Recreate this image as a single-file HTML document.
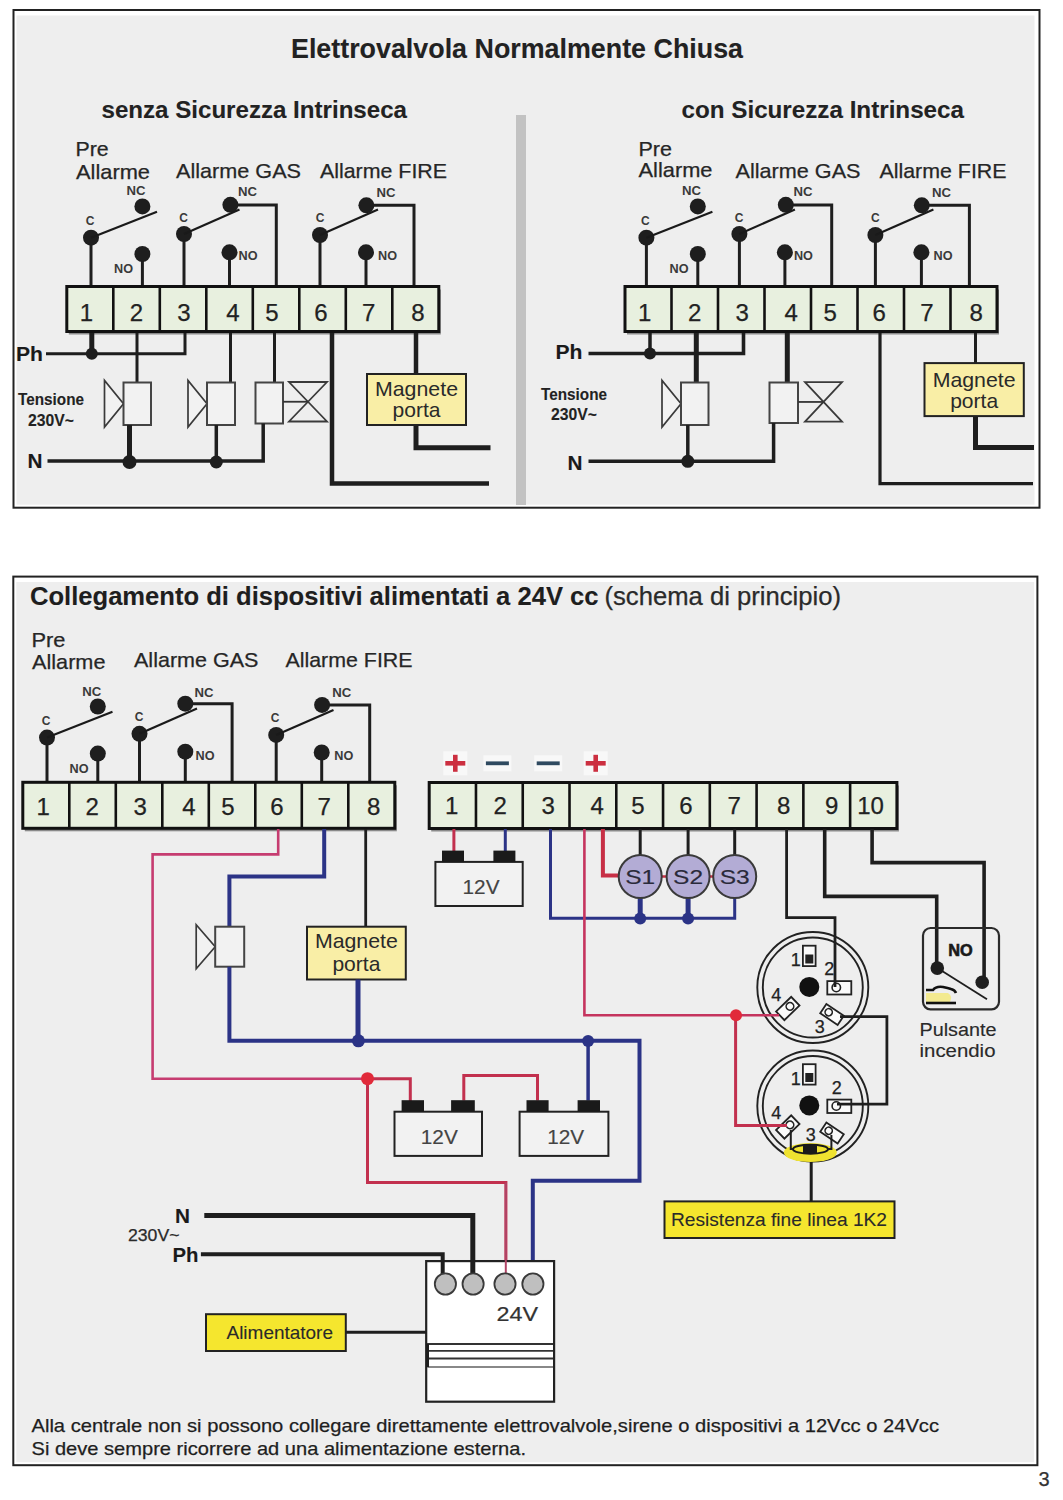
<!DOCTYPE html><html><head><meta charset="utf-8"><style>html,body{margin:0;padding:0;background:#fff;}svg{display:block;font-family:"Liberation Sans",sans-serif;}</style></head><body>
<svg width="1063" height="1500" viewBox="0 0 1063 1500">
<rect x="0" y="0" width="1063" height="1500" fill="#ffffff"/>
<rect x="13.5" y="10" width="1026" height="497.7" fill="#ffffff" stroke="#222" stroke-width="2" />
<rect x="16.5" y="15.5" width="1018" height="489.2" fill="#eeeeee"/>
<text x="291" y="57.8" font-size="27" font-weight="bold" fill="#222" stroke="#222" stroke-width="0.1" text-anchor="start" textLength="452" lengthAdjust="spacingAndGlyphs" >Elettrovalvola Normalmente Chiusa</text>
<text x="101.5" y="117.6" font-size="24" font-weight="bold" fill="#222" stroke="#222" stroke-width="0.1" text-anchor="start" textLength="305.5" lengthAdjust="spacingAndGlyphs" >senza Sicurezza Intrinseca</text>
<text x="681.5" y="117.6" font-size="24" font-weight="bold" fill="#222" stroke="#222" stroke-width="0.1" text-anchor="start" textLength="282.5" lengthAdjust="spacingAndGlyphs" >con Sicurezza Intrinseca</text>
<rect x="516" y="115" width="10" height="390" fill="#c2c2c2"/>
<text x="75.5" y="156.3" font-size="21" font-weight="normal" fill="#262626" stroke="#262626" stroke-width="0.25" text-anchor="start" textLength="33.2" lengthAdjust="spacingAndGlyphs" >Pre</text>
<text x="76" y="178.7" font-size="21" font-weight="normal" fill="#262626" stroke="#262626" stroke-width="0.25" text-anchor="start" textLength="74" lengthAdjust="spacingAndGlyphs" >Allarme</text>
<text x="176" y="178" font-size="21" font-weight="normal" fill="#262626" stroke="#262626" stroke-width="0.25" text-anchor="start" textLength="125" lengthAdjust="spacingAndGlyphs" >Allarme GAS</text>
<text x="320" y="177.5" font-size="21" font-weight="normal" fill="#262626" stroke="#262626" stroke-width="0.25" text-anchor="start" textLength="127" lengthAdjust="spacingAndGlyphs" >Allarme FIRE</text>
<line x1="91" y1="238" x2="91" y2="287" stroke="#1e1e1e" stroke-width="3" stroke-linecap="butt"/>
<line x1="142.4" y1="254" x2="142.4" y2="287" stroke="#1e1e1e" stroke-width="3" stroke-linecap="butt"/>
<line x1="184" y1="234" x2="184" y2="287" stroke="#1e1e1e" stroke-width="3" stroke-linecap="butt"/>
<line x1="229.5" y1="252" x2="229.5" y2="287" stroke="#1e1e1e" stroke-width="3" stroke-linecap="butt"/>
<polyline points="230.4,205 276.3,205 276.3,287" fill="none" stroke="#1e1e1e" stroke-width="3" stroke-linejoin="miter" stroke-linecap="butt"/>
<line x1="320" y1="235" x2="320" y2="287" stroke="#1e1e1e" stroke-width="3" stroke-linecap="butt"/>
<line x1="366" y1="252" x2="366" y2="287" stroke="#1e1e1e" stroke-width="3" stroke-linecap="butt"/>
<polyline points="366.4,205.3 414,205.3 414,287" fill="none" stroke="#1e1e1e" stroke-width="3" stroke-linejoin="miter" stroke-linecap="butt"/>
<circle cx="91" cy="237.7" r="8" fill="#1e1e1e"/>
<circle cx="142.4" cy="206.4" r="8" fill="#1e1e1e"/>
<circle cx="142.4" cy="254" r="8" fill="#1e1e1e"/>
<line x1="91" y1="237.7" x2="157" y2="211.8" stroke="#1a1a1a" stroke-width="2.2" stroke-linecap="butt"/>
<text x="90" y="225" font-size="12" font-weight="bold" fill="#3a3a3a" stroke="#3a3a3a" stroke-width="0" text-anchor="middle" >C</text>
<text x="136" y="195" font-size="12" font-weight="bold" fill="#3a3a3a" stroke="#3a3a3a" stroke-width="0" text-anchor="middle" textLength="19" lengthAdjust="spacingAndGlyphs" >NC</text>
<text x="123.6" y="273" font-size="12" font-weight="bold" fill="#3a3a3a" stroke="#3a3a3a" stroke-width="0" text-anchor="middle" textLength="19" lengthAdjust="spacingAndGlyphs" >NO</text>
<circle cx="184" cy="234" r="8" fill="#1e1e1e"/>
<circle cx="230.4" cy="204.8" r="8" fill="#1e1e1e"/>
<circle cx="229.5" cy="252.3" r="8" fill="#1e1e1e"/>
<line x1="184" y1="234" x2="239.5" y2="209.5" stroke="#1a1a1a" stroke-width="2.2" stroke-linecap="butt"/>
<text x="183.6" y="221.5" font-size="12" font-weight="bold" fill="#3a3a3a" stroke="#3a3a3a" stroke-width="0" text-anchor="middle" >C</text>
<text x="247.5" y="196" font-size="12" font-weight="bold" fill="#3a3a3a" stroke="#3a3a3a" stroke-width="0" text-anchor="middle" textLength="19" lengthAdjust="spacingAndGlyphs" >NC</text>
<text x="248" y="260" font-size="12" font-weight="bold" fill="#3a3a3a" stroke="#3a3a3a" stroke-width="0" text-anchor="middle" textLength="19" lengthAdjust="spacingAndGlyphs" >NO</text>
<circle cx="320" cy="235" r="8" fill="#1e1e1e"/>
<circle cx="366.4" cy="205.3" r="8" fill="#1e1e1e"/>
<circle cx="366" cy="252.3" r="8" fill="#1e1e1e"/>
<line x1="320" y1="235" x2="378" y2="209.5" stroke="#1a1a1a" stroke-width="2.2" stroke-linecap="butt"/>
<text x="320" y="221.5" font-size="12" font-weight="bold" fill="#3a3a3a" stroke="#3a3a3a" stroke-width="0" text-anchor="middle" >C</text>
<text x="386" y="196.5" font-size="12" font-weight="bold" fill="#3a3a3a" stroke="#3a3a3a" stroke-width="0" text-anchor="middle" textLength="19" lengthAdjust="spacingAndGlyphs" >NC</text>
<text x="387.6" y="260" font-size="12" font-weight="bold" fill="#3a3a3a" stroke="#3a3a3a" stroke-width="0" text-anchor="middle" textLength="19" lengthAdjust="spacingAndGlyphs" >NO</text>
<rect x="68.8" y="289.5" width="372.0" height="45" fill="#8a8a8a" stroke="none" stroke-width="0" />
<rect x="66.8" y="286.5" width="372.0" height="45" fill="#e8f0df" stroke="#111" stroke-width="3" />
<line x1="113.3" y1="286.5" x2="113.3" y2="331.5" stroke="#111" stroke-width="2.6" stroke-linecap="butt"/>
<line x1="159.8" y1="286.5" x2="159.8" y2="331.5" stroke="#111" stroke-width="2.6" stroke-linecap="butt"/>
<line x1="206.3" y1="286.5" x2="206.3" y2="331.5" stroke="#111" stroke-width="2.6" stroke-linecap="butt"/>
<line x1="252.8" y1="286.5" x2="252.8" y2="331.5" stroke="#111" stroke-width="2.6" stroke-linecap="butt"/>
<line x1="299.3" y1="286.5" x2="299.3" y2="331.5" stroke="#111" stroke-width="2.6" stroke-linecap="butt"/>
<line x1="345.8" y1="286.5" x2="345.8" y2="331.5" stroke="#111" stroke-width="2.6" stroke-linecap="butt"/>
<line x1="392.3" y1="286.5" x2="392.3" y2="331.5" stroke="#111" stroke-width="2.6" stroke-linecap="butt"/>
<text x="86.5" y="320.5" font-size="24" font-weight="normal" fill="#222" stroke="#222" stroke-width="0.25" text-anchor="middle" >1</text>
<text x="136.5" y="320.5" font-size="24" font-weight="normal" fill="#222" stroke="#222" stroke-width="0.25" text-anchor="middle" >2</text>
<text x="184" y="320.5" font-size="24" font-weight="normal" fill="#222" stroke="#222" stroke-width="0.25" text-anchor="middle" >3</text>
<text x="233" y="320.5" font-size="24" font-weight="normal" fill="#222" stroke="#222" stroke-width="0.25" text-anchor="middle" >4</text>
<text x="272" y="320.5" font-size="24" font-weight="normal" fill="#222" stroke="#222" stroke-width="0.25" text-anchor="middle" >5</text>
<text x="321" y="320.5" font-size="24" font-weight="normal" fill="#222" stroke="#222" stroke-width="0.25" text-anchor="middle" >6</text>
<text x="368.8" y="320.5" font-size="24" font-weight="normal" fill="#222" stroke="#222" stroke-width="0.25" text-anchor="middle" >7</text>
<text x="418" y="320.5" font-size="24" font-weight="normal" fill="#222" stroke="#222" stroke-width="0.25" text-anchor="middle" >8</text>
<text x="16" y="360.5" font-size="20" font-weight="bold" fill="#1a1a1a" stroke="#1a1a1a" stroke-width="0.1" text-anchor="start" textLength="27" lengthAdjust="spacingAndGlyphs" >Ph</text>
<text x="18" y="404.7" font-size="17" font-weight="bold" fill="#222" stroke="#222" stroke-width="0.1" text-anchor="start" textLength="66" lengthAdjust="spacingAndGlyphs" >Tensione</text>
<text x="28" y="425.5" font-size="17" font-weight="bold" fill="#222" stroke="#222" stroke-width="0.1" text-anchor="start" textLength="46" lengthAdjust="spacingAndGlyphs" >230V~</text>
<text x="27.5" y="467.6" font-size="21" font-weight="bold" fill="#1a1a1a" stroke="#1a1a1a" stroke-width="0.1" text-anchor="start" textLength="15" lengthAdjust="spacingAndGlyphs" >N</text>
<text x="638.5" y="155.7" font-size="21" font-weight="normal" fill="#262626" stroke="#262626" stroke-width="0.25" text-anchor="start" textLength="33.5" lengthAdjust="spacingAndGlyphs" >Pre</text>
<text x="638.5" y="176.8" font-size="21" font-weight="normal" fill="#262626" stroke="#262626" stroke-width="0.25" text-anchor="start" textLength="74.0" lengthAdjust="spacingAndGlyphs" >Allarme</text>
<text x="735.5" y="178" font-size="21" font-weight="normal" fill="#262626" stroke="#262626" stroke-width="0.25" text-anchor="start" textLength="125.0" lengthAdjust="spacingAndGlyphs" >Allarme GAS</text>
<text x="879.5" y="177.5" font-size="21" font-weight="normal" fill="#262626" stroke="#262626" stroke-width="0.25" text-anchor="start" textLength="127.0" lengthAdjust="spacingAndGlyphs" >Allarme FIRE</text>
<line x1="646.4000000000001" y1="238" x2="646.4000000000001" y2="287" stroke="#1e1e1e" stroke-width="3" stroke-linecap="butt"/>
<line x1="697.8000000000001" y1="254" x2="697.8000000000001" y2="287" stroke="#1e1e1e" stroke-width="3" stroke-linecap="butt"/>
<line x1="739.4000000000001" y1="234" x2="739.4000000000001" y2="287" stroke="#1e1e1e" stroke-width="3" stroke-linecap="butt"/>
<line x1="784.9000000000001" y1="252" x2="784.9000000000001" y2="287" stroke="#1e1e1e" stroke-width="3" stroke-linecap="butt"/>
<polyline points="785.8000000000001,205 831.7,205 831.7,287" fill="none" stroke="#1e1e1e" stroke-width="3" stroke-linejoin="miter" stroke-linecap="butt"/>
<line x1="875.4000000000001" y1="235" x2="875.4000000000001" y2="287" stroke="#1e1e1e" stroke-width="3" stroke-linecap="butt"/>
<line x1="921.4000000000001" y1="252" x2="921.4000000000001" y2="287" stroke="#1e1e1e" stroke-width="3" stroke-linecap="butt"/>
<polyline points="921.8000000000001,205.3 969.4000000000001,205.3 969.4000000000001,287" fill="none" stroke="#1e1e1e" stroke-width="3" stroke-linejoin="miter" stroke-linecap="butt"/>
<circle cx="646.4000000000001" cy="237.7" r="8" fill="#1e1e1e"/>
<circle cx="697.8000000000001" cy="206.4" r="8" fill="#1e1e1e"/>
<circle cx="697.8000000000001" cy="254" r="8" fill="#1e1e1e"/>
<line x1="646.4000000000001" y1="237.7" x2="712.4000000000001" y2="211.8" stroke="#1a1a1a" stroke-width="2.2" stroke-linecap="butt"/>
<text x="645.4000000000001" y="225" font-size="12" font-weight="bold" fill="#3a3a3a" stroke="#3a3a3a" stroke-width="0" text-anchor="middle" >C</text>
<text x="691.4000000000001" y="195" font-size="12" font-weight="bold" fill="#3a3a3a" stroke="#3a3a3a" stroke-width="0" text-anchor="middle" textLength="19" lengthAdjust="spacingAndGlyphs" >NC</text>
<text x="679.0000000000001" y="273" font-size="12" font-weight="bold" fill="#3a3a3a" stroke="#3a3a3a" stroke-width="0" text-anchor="middle" textLength="19" lengthAdjust="spacingAndGlyphs" >NO</text>
<circle cx="739.4000000000001" cy="234" r="8" fill="#1e1e1e"/>
<circle cx="785.8000000000001" cy="204.8" r="8" fill="#1e1e1e"/>
<circle cx="784.9000000000001" cy="252.3" r="8" fill="#1e1e1e"/>
<line x1="739.4000000000001" y1="234" x2="794.9000000000001" y2="209.5" stroke="#1a1a1a" stroke-width="2.2" stroke-linecap="butt"/>
<text x="739.0000000000001" y="221.5" font-size="12" font-weight="bold" fill="#3a3a3a" stroke="#3a3a3a" stroke-width="0" text-anchor="middle" >C</text>
<text x="802.9000000000001" y="196" font-size="12" font-weight="bold" fill="#3a3a3a" stroke="#3a3a3a" stroke-width="0" text-anchor="middle" textLength="19" lengthAdjust="spacingAndGlyphs" >NC</text>
<text x="803.4000000000001" y="260" font-size="12" font-weight="bold" fill="#3a3a3a" stroke="#3a3a3a" stroke-width="0" text-anchor="middle" textLength="19" lengthAdjust="spacingAndGlyphs" >NO</text>
<circle cx="875.4000000000001" cy="235" r="8" fill="#1e1e1e"/>
<circle cx="921.8000000000001" cy="205.3" r="8" fill="#1e1e1e"/>
<circle cx="921.4000000000001" cy="252.3" r="8" fill="#1e1e1e"/>
<line x1="875.4000000000001" y1="235" x2="933.4000000000001" y2="209.5" stroke="#1a1a1a" stroke-width="2.2" stroke-linecap="butt"/>
<text x="875.4000000000001" y="221.5" font-size="12" font-weight="bold" fill="#3a3a3a" stroke="#3a3a3a" stroke-width="0" text-anchor="middle" >C</text>
<text x="941.4000000000001" y="196.5" font-size="12" font-weight="bold" fill="#3a3a3a" stroke="#3a3a3a" stroke-width="0" text-anchor="middle" textLength="19" lengthAdjust="spacingAndGlyphs" >NC</text>
<text x="943.0000000000001" y="260" font-size="12" font-weight="bold" fill="#3a3a3a" stroke="#3a3a3a" stroke-width="0" text-anchor="middle" textLength="19" lengthAdjust="spacingAndGlyphs" >NO</text>
<rect x="627.0" y="289.5" width="372.0" height="45" fill="#8a8a8a" stroke="none" stroke-width="0" />
<rect x="625.0" y="286.5" width="372.0" height="45" fill="#e8f0df" stroke="#111" stroke-width="3" />
<line x1="671.5" y1="286.5" x2="671.5" y2="331.5" stroke="#111" stroke-width="2.6" stroke-linecap="butt"/>
<line x1="718.0" y1="286.5" x2="718.0" y2="331.5" stroke="#111" stroke-width="2.6" stroke-linecap="butt"/>
<line x1="764.5" y1="286.5" x2="764.5" y2="331.5" stroke="#111" stroke-width="2.6" stroke-linecap="butt"/>
<line x1="811.0" y1="286.5" x2="811.0" y2="331.5" stroke="#111" stroke-width="2.6" stroke-linecap="butt"/>
<line x1="857.5" y1="286.5" x2="857.5" y2="331.5" stroke="#111" stroke-width="2.6" stroke-linecap="butt"/>
<line x1="904.0" y1="286.5" x2="904.0" y2="331.5" stroke="#111" stroke-width="2.6" stroke-linecap="butt"/>
<line x1="950.5" y1="286.5" x2="950.5" y2="331.5" stroke="#111" stroke-width="2.6" stroke-linecap="butt"/>
<text x="644.7" y="320.5" font-size="24" font-weight="normal" fill="#222" stroke="#222" stroke-width="0.25" text-anchor="middle" >1</text>
<text x="694.7" y="320.5" font-size="24" font-weight="normal" fill="#222" stroke="#222" stroke-width="0.25" text-anchor="middle" >2</text>
<text x="742.2" y="320.5" font-size="24" font-weight="normal" fill="#222" stroke="#222" stroke-width="0.25" text-anchor="middle" >3</text>
<text x="791.2" y="320.5" font-size="24" font-weight="normal" fill="#222" stroke="#222" stroke-width="0.25" text-anchor="middle" >4</text>
<text x="830.2" y="320.5" font-size="24" font-weight="normal" fill="#222" stroke="#222" stroke-width="0.25" text-anchor="middle" >5</text>
<text x="879.2" y="320.5" font-size="24" font-weight="normal" fill="#222" stroke="#222" stroke-width="0.25" text-anchor="middle" >6</text>
<text x="927.0" y="320.5" font-size="24" font-weight="normal" fill="#222" stroke="#222" stroke-width="0.25" text-anchor="middle" >7</text>
<text x="976.2" y="320.5" font-size="24" font-weight="normal" fill="#222" stroke="#222" stroke-width="0.25" text-anchor="middle" >8</text>
<text x="555.5" y="358.7" font-size="20" font-weight="bold" fill="#1a1a1a" stroke="#1a1a1a" stroke-width="0.1" text-anchor="start" textLength="27" lengthAdjust="spacingAndGlyphs" >Ph</text>
<text x="541" y="399.5" font-size="17" font-weight="bold" fill="#222" stroke="#222" stroke-width="0.1" text-anchor="start" textLength="66" lengthAdjust="spacingAndGlyphs" >Tensione</text>
<text x="551" y="420.3" font-size="17" font-weight="bold" fill="#222" stroke="#222" stroke-width="0.1" text-anchor="start" textLength="46" lengthAdjust="spacingAndGlyphs" >230V~</text>
<text x="567.5" y="469.5" font-size="21" font-weight="bold" fill="#1a1a1a" stroke="#1a1a1a" stroke-width="0.1" text-anchor="start" textLength="15" lengthAdjust="spacingAndGlyphs" >N</text>
<polyline points="46,353.8 185,353.8 185,333" fill="none" stroke="#1e1e1e" stroke-width="3" stroke-linejoin="miter" stroke-linecap="butt"/>
<line x1="91.8" y1="333" x2="91.8" y2="353.8" stroke="#1e1e1e" stroke-width="5" stroke-linecap="butt"/>
<circle cx="91.8" cy="353.8" r="6" fill="#1e1e1e"/>
<line x1="137" y1="333" x2="137" y2="383" stroke="#1e1e1e" stroke-width="3" stroke-linecap="butt"/>
<line x1="230.5" y1="333" x2="230.5" y2="383" stroke="#1e1e1e" stroke-width="3" stroke-linecap="butt"/>
<line x1="274.5" y1="333" x2="274.5" y2="383" stroke="#1e1e1e" stroke-width="3" stroke-linecap="butt"/>
<polygon points="104.5,380.5 104.5,427.0 123.5,403.75" fill="#f2f2f2" stroke="#3a3a3a" stroke-width="1.7"/>
<rect x="123.5" y="382.5" width="27.5" height="42.5" fill="#f2f2f2" stroke="#444" stroke-width="2" />
<polygon points="188,380.5 188,427.0 207,403.75" fill="#f2f2f2" stroke="#3a3a3a" stroke-width="1.7"/>
<rect x="207" y="382.5" width="28" height="42.5" fill="#f2f2f2" stroke="#444" stroke-width="2" />
<rect x="255.5" y="382.5" width="27.5" height="41" fill="#f2f2f2" stroke="#444" stroke-width="2" />
<polygon points="289,382 327,382 289,421.5 327,421.5" fill="none" stroke="#3a3a3a" stroke-width="1.8" stroke-linejoin="miter"/>
<line x1="283" y1="401.75" x2="308.0" y2="401.75" stroke="#333" stroke-width="1.8" stroke-linecap="butt"/>
<polyline points="47.5,461 263.2,461 263.2,423.5" fill="none" stroke="#1e1e1e" stroke-width="3.5" stroke-linejoin="miter" stroke-linecap="butt"/>
<line x1="129.5" y1="425" x2="129.5" y2="461" stroke="#1e1e1e" stroke-width="5" stroke-linecap="butt"/>
<circle cx="129.5" cy="462" r="7" fill="#1e1e1e"/>
<line x1="216.3" y1="425" x2="216.3" y2="461" stroke="#1e1e1e" stroke-width="3.5" stroke-linecap="butt"/>
<circle cx="216.3" cy="462" r="6.5" fill="#1e1e1e"/>
<polyline points="332,333 332,483.5 489,483.5" fill="none" stroke="#1e1e1e" stroke-width="4.5" stroke-linejoin="miter" stroke-linecap="butt"/>
<line x1="416" y1="333" x2="416" y2="374" stroke="#1e1e1e" stroke-width="4.5" stroke-linecap="butt"/>
<polyline points="416,425 416,447.8 490.5,447.8" fill="none" stroke="#1e1e1e" stroke-width="5" stroke-linejoin="miter" stroke-linecap="butt"/>
<rect x="367" y="374" width="99" height="51" fill="#f9eea6" stroke="#222" stroke-width="2" />
<text x="416.5" y="395.5" font-size="21" font-weight="normal" fill="#2a2a2a" stroke="#2a2a2a" stroke-width="0" text-anchor="middle" textLength="83" lengthAdjust="spacingAndGlyphs" >Magnete</text>
<text x="416.5" y="417" font-size="21" font-weight="normal" fill="#2a2a2a" stroke="#2a2a2a" stroke-width="0" text-anchor="middle" textLength="48" lengthAdjust="spacingAndGlyphs" >porta</text>
<polyline points="588.5,353.5 743.5,353.5 743.5,333" fill="none" stroke="#1e1e1e" stroke-width="3.6" stroke-linejoin="miter" stroke-linecap="butt"/>
<line x1="650" y1="333" x2="650" y2="353.5" stroke="#1e1e1e" stroke-width="3.5" stroke-linecap="butt"/>
<circle cx="650" cy="353.5" r="6" fill="#1e1e1e"/>
<line x1="696.3" y1="333" x2="696.3" y2="383" stroke="#1e1e1e" stroke-width="5" stroke-linecap="butt"/>
<line x1="787.3" y1="333" x2="787.3" y2="383" stroke="#1e1e1e" stroke-width="5" stroke-linecap="butt"/>
<polygon points="662,380.5 662,427.0 681,403.75" fill="#f2f2f2" stroke="#3a3a3a" stroke-width="1.7"/>
<rect x="681" y="382.5" width="27.5" height="42.5" fill="#f2f2f2" stroke="#444" stroke-width="2" />
<rect x="769.5" y="382.5" width="28.5" height="40.5" fill="#f2f2f2" stroke="#444" stroke-width="2" />
<polygon points="805,382.2 842,382.2 805,421.7 842,421.7" fill="none" stroke="#3a3a3a" stroke-width="1.8" stroke-linejoin="miter"/>
<line x1="798.2" y1="401.95" x2="823.5" y2="401.95" stroke="#333" stroke-width="1.8" stroke-linecap="butt"/>
<polyline points="588.5,461.3 773.6,461.3 773.6,423" fill="none" stroke="#1e1e1e" stroke-width="3.5" stroke-linejoin="miter" stroke-linecap="butt"/>
<line x1="687.8" y1="425" x2="687.8" y2="461.3" stroke="#1e1e1e" stroke-width="3.5" stroke-linecap="butt"/>
<circle cx="687.8" cy="461.3" r="6.5" fill="#1e1e1e"/>
<polyline points="880,333 880,483.7 1033,483.7" fill="none" stroke="#1e1e1e" stroke-width="3.2" stroke-linejoin="miter" stroke-linecap="butt"/>
<line x1="975.5" y1="333" x2="975.5" y2="363" stroke="#1e1e1e" stroke-width="3" stroke-linecap="butt"/>
<polyline points="975.5,416 975.5,447.4 1034,447.4" fill="none" stroke="#1e1e1e" stroke-width="5" stroke-linejoin="miter" stroke-linecap="butt"/>
<rect x="924.5" y="363.1" width="99.3" height="53" fill="#f9eea6" stroke="#222" stroke-width="2" />
<text x="974.15" y="386.8" font-size="21" font-weight="normal" fill="#2a2a2a" stroke="#2a2a2a" stroke-width="0" text-anchor="middle" textLength="83" lengthAdjust="spacingAndGlyphs" >Magnete</text>
<text x="974.15" y="408" font-size="21" font-weight="normal" fill="#2a2a2a" stroke="#2a2a2a" stroke-width="0" text-anchor="middle" textLength="48" lengthAdjust="spacingAndGlyphs" >porta</text>
<rect x="13.3" y="576.6" width="1024.1" height="888.6" fill="#ffffff" stroke="#222" stroke-width="2" />
<rect x="16.3" y="582" width="1017.8" height="880.2" fill="#eeeeee"/>
<text x="30" y="604.8" font-size="25" font-weight="bold" fill="#1e1e1e" stroke="#1e1e1e" stroke-width="0.1" text-anchor="start" textLength="568.5" lengthAdjust="spacingAndGlyphs" >Collegamento di dispositivi alimentati a 24V cc</text>
<text x="604.5" y="604.8" font-size="25" font-weight="normal" fill="#2a2a2a" stroke="#2a2a2a" stroke-width="0.25" text-anchor="start" textLength="236.5" lengthAdjust="spacingAndGlyphs" >(schema di principio)</text>
<text x="31.5" y="647.3" font-size="21" font-weight="normal" fill="#262626" stroke="#262626" stroke-width="0.25" text-anchor="start" textLength="34.0" lengthAdjust="spacingAndGlyphs" >Pre</text>
<text x="32" y="668.5" font-size="21" font-weight="normal" fill="#262626" stroke="#262626" stroke-width="0.25" text-anchor="start" textLength="73.5" lengthAdjust="spacingAndGlyphs" >Allarme</text>
<text x="134" y="667" font-size="21" font-weight="normal" fill="#262626" stroke="#262626" stroke-width="0.25" text-anchor="start" textLength="124.5" lengthAdjust="spacingAndGlyphs" >Allarme GAS</text>
<text x="285.5" y="666.6" font-size="21" font-weight="normal" fill="#262626" stroke="#262626" stroke-width="0.25" text-anchor="start" textLength="127.0" lengthAdjust="spacingAndGlyphs" >Allarme FIRE</text>
<line x1="47" y1="737.6" x2="47" y2="782.5" stroke="#1e1e1e" stroke-width="3" stroke-linecap="butt"/>
<line x1="97.8" y1="753.6" x2="97.8" y2="782.5" stroke="#1e1e1e" stroke-width="3" stroke-linecap="butt"/>
<line x1="139.5" y1="733.8" x2="139.5" y2="782.5" stroke="#1e1e1e" stroke-width="3" stroke-linecap="butt"/>
<line x1="185.3" y1="751.7" x2="185.3" y2="782.5" stroke="#1e1e1e" stroke-width="3" stroke-linecap="butt"/>
<polyline points="185.3,703.7 232.1,703.7 232.1,782.5" fill="none" stroke="#1e1e1e" stroke-width="3" stroke-linejoin="miter" stroke-linecap="butt"/>
<line x1="276.2" y1="734.9" x2="276.2" y2="782.5" stroke="#1e1e1e" stroke-width="3" stroke-linecap="butt"/>
<line x1="321.7" y1="752.5" x2="321.7" y2="782.5" stroke="#1e1e1e" stroke-width="3" stroke-linecap="butt"/>
<polyline points="322.1,704.9 369.7,704.9 369.7,782.5" fill="none" stroke="#1e1e1e" stroke-width="3" stroke-linejoin="miter" stroke-linecap="butt"/>
<circle cx="47" cy="737.6" r="8" fill="#1e1e1e"/>
<circle cx="97.8" cy="706.5" r="8" fill="#1e1e1e"/>
<circle cx="97.8" cy="753.6" r="8" fill="#1e1e1e"/>
<line x1="47" y1="737.6" x2="112.5" y2="711.8" stroke="#1a1a1a" stroke-width="2.2" stroke-linecap="butt"/>
<text x="46" y="725" font-size="12" font-weight="bold" fill="#3a3a3a" stroke="#3a3a3a" stroke-width="0" text-anchor="middle" >C</text>
<text x="91.8" y="695.5" font-size="12" font-weight="bold" fill="#3a3a3a" stroke="#3a3a3a" stroke-width="0" text-anchor="middle" textLength="19" lengthAdjust="spacingAndGlyphs" >NC</text>
<text x="79" y="773" font-size="12" font-weight="bold" fill="#3a3a3a" stroke="#3a3a3a" stroke-width="0" text-anchor="middle" textLength="19" lengthAdjust="spacingAndGlyphs" >NO</text>
<circle cx="139.5" cy="733.8" r="8" fill="#1e1e1e"/>
<circle cx="185.3" cy="703.7" r="8" fill="#1e1e1e"/>
<circle cx="185.3" cy="751.7" r="8" fill="#1e1e1e"/>
<line x1="139.5" y1="733.8" x2="197" y2="708.5" stroke="#1a1a1a" stroke-width="2.2" stroke-linecap="butt"/>
<text x="139.2" y="721" font-size="12" font-weight="bold" fill="#3a3a3a" stroke="#3a3a3a" stroke-width="0" text-anchor="middle" >C</text>
<text x="204" y="697" font-size="12" font-weight="bold" fill="#3a3a3a" stroke="#3a3a3a" stroke-width="0" text-anchor="middle" textLength="19" lengthAdjust="spacingAndGlyphs" >NC</text>
<text x="205" y="760" font-size="12" font-weight="bold" fill="#3a3a3a" stroke="#3a3a3a" stroke-width="0" text-anchor="middle" textLength="19" lengthAdjust="spacingAndGlyphs" >NO</text>
<circle cx="276.2" cy="734.9" r="8" fill="#1e1e1e"/>
<circle cx="322.1" cy="704.9" r="8" fill="#1e1e1e"/>
<circle cx="321.7" cy="752.5" r="8" fill="#1e1e1e"/>
<line x1="276.2" y1="734.9" x2="333.5" y2="710" stroke="#1a1a1a" stroke-width="2.2" stroke-linecap="butt"/>
<text x="275" y="721.5" font-size="12" font-weight="bold" fill="#3a3a3a" stroke="#3a3a3a" stroke-width="0" text-anchor="middle" >C</text>
<text x="341.8" y="697" font-size="12" font-weight="bold" fill="#3a3a3a" stroke="#3a3a3a" stroke-width="0" text-anchor="middle" textLength="19" lengthAdjust="spacingAndGlyphs" >NC</text>
<text x="343.8" y="760" font-size="12" font-weight="bold" fill="#3a3a3a" stroke="#3a3a3a" stroke-width="0" text-anchor="middle" textLength="19" lengthAdjust="spacingAndGlyphs" >NO</text>
<rect x="24.8" y="785.3" width="372.0" height="46" fill="#8a8a8a" stroke="none" stroke-width="0" />
<rect x="22.8" y="782.3" width="372.0" height="46" fill="#e8f0df" stroke="#111" stroke-width="3" />
<line x1="69.3" y1="782.3" x2="69.3" y2="828.3" stroke="#111" stroke-width="2.6" stroke-linecap="butt"/>
<line x1="115.8" y1="782.3" x2="115.8" y2="828.3" stroke="#111" stroke-width="2.6" stroke-linecap="butt"/>
<line x1="162.3" y1="782.3" x2="162.3" y2="828.3" stroke="#111" stroke-width="2.6" stroke-linecap="butt"/>
<line x1="208.8" y1="782.3" x2="208.8" y2="828.3" stroke="#111" stroke-width="2.6" stroke-linecap="butt"/>
<line x1="255.3" y1="782.3" x2="255.3" y2="828.3" stroke="#111" stroke-width="2.6" stroke-linecap="butt"/>
<line x1="301.8" y1="782.3" x2="301.8" y2="828.3" stroke="#111" stroke-width="2.6" stroke-linecap="butt"/>
<line x1="348.3" y1="782.3" x2="348.3" y2="828.3" stroke="#111" stroke-width="2.6" stroke-linecap="butt"/>
<text x="43.2" y="815.3" font-size="24" font-weight="normal" fill="#222" stroke="#222" stroke-width="0.25" text-anchor="middle" >1</text>
<text x="92.1" y="815.3" font-size="24" font-weight="normal" fill="#222" stroke="#222" stroke-width="0.25" text-anchor="middle" >2</text>
<text x="140.1" y="815.3" font-size="24" font-weight="normal" fill="#222" stroke="#222" stroke-width="0.25" text-anchor="middle" >3</text>
<text x="189" y="815.3" font-size="24" font-weight="normal" fill="#222" stroke="#222" stroke-width="0.25" text-anchor="middle" >4</text>
<text x="227.9" y="815.3" font-size="24" font-weight="normal" fill="#222" stroke="#222" stroke-width="0.25" text-anchor="middle" >5</text>
<text x="277" y="815.3" font-size="24" font-weight="normal" fill="#222" stroke="#222" stroke-width="0.25" text-anchor="middle" >6</text>
<text x="324.2" y="815.3" font-size="24" font-weight="normal" fill="#222" stroke="#222" stroke-width="0.25" text-anchor="middle" >7</text>
<text x="373.8" y="815.3" font-size="24" font-weight="normal" fill="#222" stroke="#222" stroke-width="0.25" text-anchor="middle" >8</text>
<polyline points="278.2,829 278.2,854.4 152.6,854.4 152.6,1078.7 367.5,1078.7" fill="none" stroke="#c63c70" stroke-width="2.6" stroke-linejoin="miter" stroke-linecap="butt"/>
<polyline points="367.5,1078.7 410.3,1078.7 410.3,1101" fill="none" stroke="#c2304e" stroke-width="3" stroke-linejoin="miter" stroke-linecap="butt"/>
<polyline points="324.2,829 324.2,876.4 229.4,876.4 229.4,927" fill="none" stroke="#2b3386" stroke-width="4" stroke-linejoin="miter" stroke-linecap="butt"/>
<line x1="365.7" y1="829" x2="365.7" y2="927" stroke="#1e1e1e" stroke-width="2.8" stroke-linecap="butt"/>
<polygon points="196.2,924.7 196.2,968.7 215.2,946.7" fill="#f2f2f2" stroke="#3a3a3a" stroke-width="1.7"/>
<rect x="215.2" y="926.7" width="29" height="40" fill="#f2f2f2" stroke="#444" stroke-width="2" />
<rect x="307" y="926.7" width="98.8" height="52.8" fill="#f9eea6" stroke="#222" stroke-width="2" />
<text x="356.4" y="948.4" font-size="21" font-weight="normal" fill="#2a2a2a" stroke="#2a2a2a" stroke-width="0" text-anchor="middle" textLength="83" lengthAdjust="spacingAndGlyphs" >Magnete</text>
<text x="356.4" y="971" font-size="21" font-weight="normal" fill="#2a2a2a" stroke="#2a2a2a" stroke-width="0" text-anchor="middle" textLength="48" lengthAdjust="spacingAndGlyphs" >porta</text>
<polyline points="229.4,966.8 229.4,1040.8 639.5,1040.8 639.5,1180.7 532.8,1180.7 532.8,1273" fill="none" stroke="#2b3386" stroke-width="4" stroke-linejoin="miter" stroke-linecap="butt"/>
<line x1="358" y1="979.5" x2="358" y2="1040.8" stroke="#2b3386" stroke-width="5" stroke-linecap="butt"/>
<circle cx="358.4" cy="1040.8" r="6.5" fill="#2b3386"/>
<line x1="588.1" y1="1041" x2="588.1" y2="1100.6" stroke="#2b3386" stroke-width="3.5" stroke-linecap="butt"/>
<circle cx="588.1" cy="1041" r="6" fill="#2b3386"/>
<polyline points="367.5,1078.7 367.5,1182.5 505.9,1182.5 505.9,1273" fill="none" stroke="#c2304e" stroke-width="3" stroke-linejoin="miter" stroke-linecap="butt"/>
<circle cx="367.5" cy="1078.7" r="6.5" fill="#e12a3a"/>
<polyline points="463.8,1100.6 463.8,1075.6 537.5,1075.6 537.5,1100.6" fill="none" stroke="#c2304e" stroke-width="3" stroke-linejoin="miter" stroke-linecap="butt"/>
<rect x="394.5" y="1111.7" width="87.5" height="44.200000000000045" fill="#f2f2f2" stroke="#222" stroke-width="2" />
<rect x="401.6" y="1100.2" width="22.399999999999977" height="11.5" fill="#1a1a1a"/>
<rect x="451.1" y="1100.2" width="23.69999999999999" height="11.5" fill="#1a1a1a"/>
<text x="439.3" y="1143.8" font-size="20" font-weight="normal" fill="#444" stroke="#444" stroke-width="0.15" text-anchor="middle" textLength="37" lengthAdjust="spacingAndGlyphs" >12V</text>
<rect x="519.6" y="1111.7" width="88.79999999999995" height="44.200000000000045" fill="#f2f2f2" stroke="#222" stroke-width="2" />
<rect x="526.5" y="1100.2" width="22.100000000000023" height="11.5" fill="#1a1a1a"/>
<rect x="577.6" y="1100.2" width="22.399999999999977" height="11.5" fill="#1a1a1a"/>
<text x="565.7" y="1143.8" font-size="20" font-weight="normal" fill="#444" stroke="#444" stroke-width="0.15" text-anchor="middle" textLength="37" lengthAdjust="spacingAndGlyphs" >12V</text>
<rect x="443.3" y="751.3" width="24" height="24" fill="#f8f8f8"/>
<line x1="445.3" y1="763.3" x2="465.3" y2="763.3" stroke="#cc2f40" stroke-width="4.6" stroke-linecap="butt"/>
<line x1="455.3" y1="754.8" x2="455.3" y2="771.8" stroke="#cc2f40" stroke-width="4.6" stroke-linecap="butt"/>
<rect x="483.4" y="755.3" width="28" height="16" fill="#f8f8f8"/>
<line x1="485.9" y1="763.3" x2="508.9" y2="763.3" stroke="#2f4a60" stroke-width="3.8" stroke-linecap="butt"/>
<rect x="534.2" y="755.3" width="28" height="16" fill="#f8f8f8"/>
<line x1="536.7" y1="763.3" x2="559.7" y2="763.3" stroke="#2f4a60" stroke-width="3.8" stroke-linecap="butt"/>
<rect x="583.7" y="751.3" width="24" height="24" fill="#f8f8f8"/>
<line x1="585.7" y1="763.3" x2="605.7" y2="763.3" stroke="#cc2f40" stroke-width="4.6" stroke-linecap="butt"/>
<line x1="595.7" y1="754.8" x2="595.7" y2="771.8" stroke="#cc2f40" stroke-width="4.6" stroke-linecap="butt"/>
<rect x="431.2" y="785.5" width="467.70000000000005" height="46" fill="#8a8a8a" stroke="none" stroke-width="0" />
<rect x="429.2" y="782.5" width="467.70000000000005" height="46" fill="#e8f0df" stroke="#111" stroke-width="3" />
<line x1="475.96999999999997" y1="782.5" x2="475.96999999999997" y2="828.5" stroke="#111" stroke-width="2.6" stroke-linecap="butt"/>
<line x1="522.74" y1="782.5" x2="522.74" y2="828.5" stroke="#111" stroke-width="2.6" stroke-linecap="butt"/>
<line x1="569.51" y1="782.5" x2="569.51" y2="828.5" stroke="#111" stroke-width="2.6" stroke-linecap="butt"/>
<line x1="616.28" y1="782.5" x2="616.28" y2="828.5" stroke="#111" stroke-width="2.6" stroke-linecap="butt"/>
<line x1="663.05" y1="782.5" x2="663.05" y2="828.5" stroke="#111" stroke-width="2.6" stroke-linecap="butt"/>
<line x1="709.8199999999999" y1="782.5" x2="709.8199999999999" y2="828.5" stroke="#111" stroke-width="2.6" stroke-linecap="butt"/>
<line x1="756.59" y1="782.5" x2="756.59" y2="828.5" stroke="#111" stroke-width="2.6" stroke-linecap="butt"/>
<line x1="803.36" y1="782.5" x2="803.36" y2="828.5" stroke="#111" stroke-width="2.6" stroke-linecap="butt"/>
<line x1="850.13" y1="782.5" x2="850.13" y2="828.5" stroke="#111" stroke-width="2.6" stroke-linecap="butt"/>
<text x="451.6" y="813.8" font-size="24" font-weight="normal" fill="#222" stroke="#222" stroke-width="0.25" text-anchor="middle" >1</text>
<text x="500.2" y="813.8" font-size="24" font-weight="normal" fill="#222" stroke="#222" stroke-width="0.25" text-anchor="middle" >2</text>
<text x="548.2" y="813.8" font-size="24" font-weight="normal" fill="#222" stroke="#222" stroke-width="0.25" text-anchor="middle" >3</text>
<text x="597.2" y="813.8" font-size="24" font-weight="normal" fill="#222" stroke="#222" stroke-width="0.25" text-anchor="middle" >4</text>
<text x="637.9" y="813.8" font-size="24" font-weight="normal" fill="#222" stroke="#222" stroke-width="0.25" text-anchor="middle" >5</text>
<text x="686" y="813.8" font-size="24" font-weight="normal" fill="#222" stroke="#222" stroke-width="0.25" text-anchor="middle" >6</text>
<text x="734.2" y="813.8" font-size="24" font-weight="normal" fill="#222" stroke="#222" stroke-width="0.25" text-anchor="middle" >7</text>
<text x="783.7" y="813.8" font-size="24" font-weight="normal" fill="#222" stroke="#222" stroke-width="0.25" text-anchor="middle" >8</text>
<text x="831.8" y="813.8" font-size="24" font-weight="normal" fill="#222" stroke="#222" stroke-width="0.25" text-anchor="middle" >9</text>
<text x="870.6" y="813.8" font-size="24" font-weight="normal" fill="#222" stroke="#222" stroke-width="0.25" text-anchor="middle" >10</text>
<line x1="453.9" y1="829" x2="453.9" y2="851" stroke="#c2304e" stroke-width="3" stroke-linecap="butt"/>
<line x1="505.3" y1="829" x2="505.3" y2="851" stroke="#2b3386" stroke-width="3" stroke-linecap="butt"/>
<rect x="435.4" y="861.9" width="87.3" height="44.1" fill="#f2f2f2" stroke="#222" stroke-width="2" />
<rect x="442" y="850.6" width="22" height="11.5" fill="#1a1a1a"/>
<rect x="493.4" y="850.6" width="22" height="11.5" fill="#1a1a1a"/>
<text x="481" y="893.5" font-size="20" font-weight="normal" fill="#444" stroke="#444" stroke-width="0.15" text-anchor="middle" textLength="37" lengthAdjust="spacingAndGlyphs" >12V</text>
<polyline points="550.5,829 550.5,918.3 734.7,918.3 734.7,898" fill="none" stroke="#2b3386" stroke-width="3" stroke-linejoin="miter" stroke-linecap="butt"/>
<line x1="640.2" y1="898" x2="640.2" y2="918.3" stroke="#2b3386" stroke-width="5" stroke-linecap="butt"/>
<circle cx="640.2" cy="918.5" r="6" fill="#2b3386"/>
<line x1="688.1" y1="898" x2="688.1" y2="918.3" stroke="#2b3386" stroke-width="5" stroke-linecap="butt"/>
<circle cx="688.1" cy="918.5" r="6" fill="#2b3386"/>
<polyline points="602.9,829 602.9,875.5 619,875.5" fill="none" stroke="#c72f45" stroke-width="4" stroke-linejoin="miter" stroke-linecap="butt"/>
<line x1="660" y1="876.5" x2="668" y2="876.5" stroke="#c72f45" stroke-width="2.5" stroke-linecap="butt"/>
<line x1="708" y1="876.5" x2="715" y2="876.5" stroke="#c72f45" stroke-width="2.5" stroke-linecap="butt"/>
<line x1="640.2" y1="829" x2="640.2" y2="855" stroke="#1e1e1e" stroke-width="3" stroke-linecap="butt"/>
<line x1="688.1" y1="829" x2="688.1" y2="855" stroke="#1e1e1e" stroke-width="3" stroke-linecap="butt"/>
<line x1="734.7" y1="829" x2="734.7" y2="855" stroke="#1e1e1e" stroke-width="3" stroke-linecap="butt"/>
<circle cx="640.2" cy="876.5" r="21.5" fill="#b3acd5" stroke="#3a3a3a" stroke-width="2"/>
<text x="640.2" y="884" font-size="20" font-weight="normal" fill="#2a2a3a" stroke="#2a2a3a" stroke-width="0.15" text-anchor="middle" textLength="30" lengthAdjust="spacingAndGlyphs" >S1</text>
<circle cx="688.1" cy="876.5" r="21.5" fill="#b3acd5" stroke="#3a3a3a" stroke-width="2"/>
<text x="688.1" y="884" font-size="20" font-weight="normal" fill="#2a2a3a" stroke="#2a2a3a" stroke-width="0.15" text-anchor="middle" textLength="30" lengthAdjust="spacingAndGlyphs" >S2</text>
<circle cx="734.7" cy="876.5" r="21.5" fill="#b3acd5" stroke="#3a3a3a" stroke-width="2"/>
<text x="734.7" y="884" font-size="20" font-weight="normal" fill="#2a2a3a" stroke="#2a2a3a" stroke-width="0.15" text-anchor="middle" textLength="30" lengthAdjust="spacingAndGlyphs" >S3</text>
<circle cx="812.8" cy="987.5" r="55.5" fill="none" stroke="#222" stroke-width="1.9"/>
<circle cx="812.8" cy="987.5" r="50" fill="none" stroke="#222" stroke-width="1.9"/>
<circle cx="809.3" cy="986.9" r="10" fill="#111"/>
<rect x="802.9" y="945.7" width="12.7" height="20.4" fill="#fafafa" stroke="#222" stroke-width="1.8" />
<rect x="805.3" y="954.5" width="8" height="9" fill="#222"/>
<text x="795.8" y="966.0" font-size="18" font-weight="normal" fill="#222" stroke="#222" stroke-width="0.25" text-anchor="middle" >1</text>
<rect x="827.3" y="981.1" width="24" height="13.4" fill="#fafafa" stroke="#222" stroke-width="1.8" />
<circle cx="836.3" cy="987.5" r="4.2" fill="none" stroke="#222" stroke-width="1.6"/>
<text x="829.3" y="975.0" font-size="18" font-weight="normal" fill="#222" stroke="#222" stroke-width="0.25" text-anchor="middle" >2</text>
<g transform="translate(787.8,1008.5) rotate(-44)"><rect x="-10.5" y="-6" width="21" height="12" fill="#fafafa" stroke="#222" stroke-width="1.8"/><circle cx="3" cy="0" r="3.8" fill="none" stroke="#222" stroke-width="1.6"/></g>
<text x="776.3" y="1000.5" font-size="18" font-weight="normal" fill="#222" stroke="#222" stroke-width="0.25" text-anchor="middle" >4</text>
<g transform="translate(832.0,1014.5) rotate(34)"><rect x="-10.5" y="-5.5" width="21" height="11" fill="#fafafa" stroke="#222" stroke-width="1.8"/><circle cx="-4" cy="0" r="3.6" fill="none" stroke="#222" stroke-width="1.6"/></g>
<text x="819.8" y="1033.0" font-size="18" font-weight="normal" fill="#222" stroke="#222" stroke-width="0.25" text-anchor="middle" >3</text>
<circle cx="812.8" cy="1106" r="55.5" fill="none" stroke="#222" stroke-width="1.9"/>
<circle cx="812.8" cy="1106" r="50" fill="none" stroke="#222" stroke-width="1.9"/>
<ellipse cx="810.3" cy="1152.5" rx="26.5" ry="9.5" fill="#efe230"/>
<circle cx="809.3" cy="1105.4" r="10" fill="#111"/>
<rect x="802.9" y="1064.2" width="12.7" height="20.4" fill="#fafafa" stroke="#222" stroke-width="1.8" />
<rect x="805.3" y="1073" width="8" height="9" fill="#222"/>
<text x="795.8" y="1084.5" font-size="18" font-weight="normal" fill="#222" stroke="#222" stroke-width="0.25" text-anchor="middle" >1</text>
<rect x="827.3" y="1099.6" width="24" height="13.4" fill="#fafafa" stroke="#222" stroke-width="1.8" />
<circle cx="836.3" cy="1106" r="4.2" fill="none" stroke="#222" stroke-width="1.6"/>
<text x="836.8" y="1093.5" font-size="18" font-weight="normal" fill="#222" stroke="#222" stroke-width="0.25" text-anchor="middle" >2</text>
<g transform="translate(787.8,1127) rotate(-44)"><rect x="-10.5" y="-6" width="21" height="12" fill="#fafafa" stroke="#222" stroke-width="1.8"/><circle cx="3" cy="0" r="3.8" fill="none" stroke="#222" stroke-width="1.6"/></g>
<text x="776.3" y="1119" font-size="18" font-weight="normal" fill="#222" stroke="#222" stroke-width="0.25" text-anchor="middle" >4</text>
<g transform="translate(832.0,1133) rotate(34)"><rect x="-10.5" y="-5.5" width="21" height="11" fill="#fafafa" stroke="#222" stroke-width="1.8"/><circle cx="-4" cy="0" r="3.6" fill="none" stroke="#222" stroke-width="1.6"/></g>
<text x="810.8" y="1141" font-size="18" font-weight="normal" fill="#222" stroke="#222" stroke-width="0.25" text-anchor="middle" >3</text>
<polyline points="584.4,829 584.4,1015.3 779,1015.3" fill="none" stroke="#c5345e" stroke-width="2.6" stroke-linejoin="miter" stroke-linecap="butt"/>
<polyline points="735.6,1015.3 735.6,1125.6 787,1125.6" fill="none" stroke="#c2304e" stroke-width="3" stroke-linejoin="miter" stroke-linecap="butt"/>
<circle cx="736" cy="1015.3" r="6" fill="#e12a3a"/>
<polyline points="786.6,829 786.6,917.6 835,917.6 835,987" fill="none" stroke="#1e1e1e" stroke-width="2.8" stroke-linejoin="miter" stroke-linecap="butt"/>
<ellipse cx="810.5" cy="1149.2" rx="17.5" ry="4.5" fill="none" stroke="#1a1a1a" stroke-width="2"/>
<rect x="803" y="1145" width="14" height="8.5" fill="#1a1a1a"/>
<polyline points="790.8,1130 790.8,1149 793,1149" fill="none" stroke="#1e1e1e" stroke-width="2" stroke-linejoin="miter" stroke-linecap="butt"/>
<polyline points="831.4,1135 831.4,1149 828,1149" fill="none" stroke="#1e1e1e" stroke-width="2" stroke-linejoin="miter" stroke-linecap="butt"/>
<polyline points="840,1016.7 886.9,1016.7 886.9,1104.1 837,1104.1" fill="none" stroke="#1e1e1e" stroke-width="2.8" stroke-linejoin="miter" stroke-linecap="butt"/>
<line x1="811.2" y1="1162" x2="811.2" y2="1202" stroke="#1e1e1e" stroke-width="3" stroke-linecap="butt"/>
<rect x="664.5" y="1201.4" width="230" height="36.6" fill="#f5e62e" stroke="#222" stroke-width="2" />
<text x="671" y="1225.6" font-size="19" font-weight="normal" fill="#2a2a2a" stroke="#2a2a2a" stroke-width="0.1" text-anchor="start" textLength="216" lengthAdjust="spacingAndGlyphs" >Resistenza fine linea 1K2</text>
<polyline points="824.7,829 824.7,896.4 936.7,896.4 936.7,968.4" fill="none" stroke="#1e1e1e" stroke-width="3.6" stroke-linejoin="miter" stroke-linecap="butt"/>
<polyline points="872.1,829 872.1,862.6 984.1,862.6 984.1,982.5" fill="none" stroke="#1e1e1e" stroke-width="3.6" stroke-linejoin="miter" stroke-linecap="butt"/>
<rect x="923" y="928" width="76" height="81.3" rx="7.5" ry="7.5" fill="none" stroke="#2a2a2a" stroke-width="2.2"/>
<text x="960.5" y="955.5" font-size="16.5" font-weight="bold" fill="#1a1a1a" stroke="#1a1a1a" stroke-width="0.6" text-anchor="middle" textLength="24.5" lengthAdjust="spacingAndGlyphs" >NO</text>
<circle cx="937.3" cy="968.1" r="6.8" fill="#1e1e1e"/>
<circle cx="982.2" cy="982.2" r="6.8" fill="#1e1e1e"/>
<line x1="937.3" y1="968.1" x2="987" y2="999.2" stroke="#1e1e1e" stroke-width="1.8" stroke-linecap="butt"/>
<path d="M926,993 L948,993 Q953,996 950,1002 L926,1002 Z" fill="#f3ea90"/>
<path d="M926,990 L933,990 Q936,986 943,987 Q948,988 951,989 Q955,990 956,993" fill="none" stroke="#111" stroke-width="2.6"/>
<path d="M926,1003 L956,1003" fill="none" stroke="#111" stroke-width="2.6"/>
<text x="919.5" y="1035.9" font-size="18" font-weight="normal" fill="#2a2a2a" stroke="#2a2a2a" stroke-width="0.15" text-anchor="start" textLength="77.0" lengthAdjust="spacingAndGlyphs" >Pulsante</text>
<text x="919.5" y="1056.8" font-size="18" font-weight="normal" fill="#2a2a2a" stroke="#2a2a2a" stroke-width="0.15" text-anchor="start" textLength="76.0" lengthAdjust="spacingAndGlyphs" >incendio</text>
<rect x="426.2" y="1261.1" width="127.9" height="140.6" fill="#ffffff" stroke="#222" stroke-width="2.2" />
<polyline points="204.3,1215.4 472.8,1215.4 472.8,1275" fill="none" stroke="#1e1e1e" stroke-width="5" stroke-linejoin="miter" stroke-linecap="butt"/>
<polyline points="200.9,1254.3 442.7,1254.3 442.7,1275" fill="none" stroke="#1e1e1e" stroke-width="4" stroke-linejoin="miter" stroke-linecap="butt"/>
<line x1="345.8" y1="1332.2" x2="426.2" y2="1332.2" stroke="#1e1e1e" stroke-width="3" stroke-linecap="butt"/>
<line x1="505.8" y1="1182.5" x2="505.8" y2="1275" stroke="#b04466" stroke-width="2" stroke-linecap="butt"/>
<circle cx="445.4" cy="1284" r="10.6" fill="#bfbfbf" stroke="#3a3a3a" stroke-width="1.8"/>
<circle cx="473.1" cy="1284" r="10.6" fill="#bfbfbf" stroke="#3a3a3a" stroke-width="1.8"/>
<circle cx="505" cy="1284" r="10.6" fill="#bfbfbf" stroke="#3a3a3a" stroke-width="1.8"/>
<circle cx="532.9" cy="1284" r="10.6" fill="#bfbfbf" stroke="#3a3a3a" stroke-width="1.8"/>
<text x="496.5" y="1321.2" font-size="20" font-weight="normal" fill="#333" stroke="#333" stroke-width="0.2" text-anchor="start" textLength="41.5" lengthAdjust="spacingAndGlyphs" >24V</text>
<line x1="427" y1="1344" x2="553" y2="1344" stroke="#333" stroke-width="1.8" stroke-linecap="butt"/>
<line x1="427" y1="1350.9" x2="553" y2="1350.9" stroke="#333" stroke-width="1.8" stroke-linecap="butt"/>
<line x1="427" y1="1358.5" x2="553" y2="1358.5" stroke="#333" stroke-width="1.8" stroke-linecap="butt"/>
<line x1="427" y1="1367" x2="553" y2="1367" stroke="#888" stroke-width="1.8" stroke-linecap="butt"/>
<line x1="427.5" y1="1344" x2="427.5" y2="1367" stroke="#1e1e1e" stroke-width="3" stroke-linecap="butt"/>
<text x="175" y="1223" font-size="20" font-weight="bold" fill="#1a1a1a" stroke="#1a1a1a" stroke-width="0.1" text-anchor="start" textLength="15" lengthAdjust="spacingAndGlyphs" >N</text>
<text x="128" y="1241" font-size="16" font-weight="normal" fill="#2a2a2a" stroke="#2a2a2a" stroke-width="0.25" text-anchor="start" textLength="51.5" lengthAdjust="spacingAndGlyphs" >230V~</text>
<text x="172.5" y="1262" font-size="20" font-weight="bold" fill="#1a1a1a" stroke="#1a1a1a" stroke-width="0.1" text-anchor="start" textLength="26" lengthAdjust="spacingAndGlyphs" >Ph</text>
<rect x="206" y="1314.2" width="139.8" height="36.8" fill="#f5e62e" stroke="#222" stroke-width="2" />
<text x="226.5" y="1339.3" font-size="19" font-weight="normal" fill="#2a2a2a" stroke="#2a2a2a" stroke-width="0.1" text-anchor="start" textLength="106.5" lengthAdjust="spacingAndGlyphs" >Alimentatore</text>
<text x="31.5" y="1431.8" font-size="19" font-weight="normal" fill="#1e1e1e" stroke="#1e1e1e" stroke-width="0.25" text-anchor="start" textLength="907.5" lengthAdjust="spacingAndGlyphs" >Alla centrale non si possono collegare direttamente elettrovalvole,sirene o dispositivi a 12Vcc o 24Vcc</text>
<text x="31.5" y="1454.8" font-size="19" font-weight="normal" fill="#1e1e1e" stroke="#1e1e1e" stroke-width="0.25" text-anchor="start" textLength="494.5" lengthAdjust="spacingAndGlyphs" >Si deve sempre ricorrere ad una alimentazione esterna.</text>
<text x="1038.5" y="1485.5" font-size="20" font-weight="normal" fill="#333" stroke="#333" stroke-width="0.25" text-anchor="start" >3</text>
</svg></body></html>
